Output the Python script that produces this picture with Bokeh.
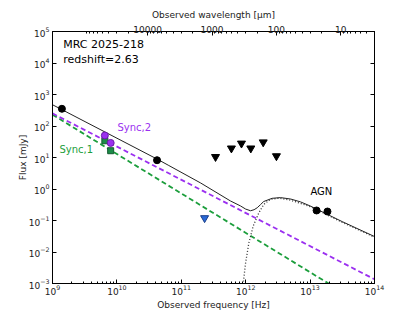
from bokeh.plotting import figure
from bokeh.models import (LogAxis, FixedTicker, Range1d, LogScale, Label,
                          BasicTickFormatter, LogTicker)
from bokeh.embed import file_html
from bokeh.resources import INLINE

# ---------------- data ----------------
# detections (black circles) with error bars
det_freq = [1.4e9, 4.2e10, 1.26e13, 1.86e13]
det_flux = [352, 8.2, 0.208, 0.193]
det_lo = [352, 6.7, 0.208, 0.152]
det_hi = [352, 10.0, 0.208, 0.245]

# synchrotron component photometry
sync2_pt_freq = [6.5e9, 8.0e9]
sync2_pt_flux = [50, 29]
sync1_pt_freq = [6.5e9, 8.0e9]
sync1_pt_flux = [34, 16.4]

# upper limits
ulim_freq = [3.4e11, 6.0e11, 8.6e11, 1.2e12, 1.87e12, 3.0e12]
ulim_flux = [10.5, 19.6, 28, 19.6, 30.6, 11.1]
blue_freq = [2.3e11]
blue_flux = [0.12]

# model components
sync_freq = [1e9, 1e14]
sync1_flux = [229, 1.28e-4]
sync2_flux = [251, 1.36e-3]

agn_freq = [8.9e11, 9.93e11, 1.117e12, 1.306e12, 1.6e12, 1.905e12, 2.427e12,
            3.266e12, 4.677e12, 7.08e12, 1.014e13, 3.16e13, 1e14]
agn_flux = [6e-4, 4.3e-3, 0.019, 0.066, 0.175, 0.324, 0.47,
            0.51, 0.457, 0.35, 0.274, 0.087, 0.0295]

total_freq = [1e9, 4.3e10, 6.4e10, 2e11, 5.8e11, 8.3e11, 1e12, 1.19e12, 1.35e12,
              1.51e12, 1.7e12, 1.9e12, 2.57e12, 3.47e12, 5e12, 7.1e12, 1e13,
              3.16e13, 1e14]
total_flux = [473, 8.7, 5.57, 1.55, 0.417, 0.29, 0.23, 0.204, 0.22,
              0.254, 0.32, 0.40, 0.506, 0.533, 0.48, 0.39, 0.29,
              0.092, 0.031]

# top axis (wavelength, micron)
wl_ticks = [10000, 1000, 100, 10]
wl_minor = [k * 10 ** n for n in range(0, 5) for k in range(2, 10)]

C_UM = 2.99792458e14  # speed of light in micron/s

PURPLE = "#9b30f0"
GREEN = "#1c9e3c"
FONT = "DejaVu Sans"

p = figure(width=416, height=312, x_axis_type="log", y_axis_type="log",
           x_range=(1e9, 1e14), y_range=(1e-3, 1e5),
           output_backend="svg", toolbar_location=None,
           min_border_left=52, min_border_right=42, min_border_top=31,
           min_border_bottom=28)
p.grid.visible = False
p.outline_line_color = "black"
p.outline_line_width = 1
p.background_fill_color = "white"
p.border_fill_color = "white"

bottom = p.below[0]
left = p.left[0]

# wavelength axis on top
p.extra_x_ranges = {"wl": Range1d(start=C_UM / 1e9, end=C_UM / 1e14)}
p.extra_x_scales = {"wl": LogScale()}
top = LogAxis(x_range_name="wl",
              ticker=FixedTicker(ticks=wl_ticks, minor_ticks=wl_minor),
              formatter=BasicTickFormatter(use_scientific=False),
              axis_label="Observed wavelength [\u03bcm]")
p.add_layout(top, "above")

right = LogAxis(ticker=LogTicker())
p.add_layout(right, "right")

for ax in [bottom, left, top, right]:
    ax.major_tick_in = 4
    ax.major_tick_out = 0
    ax.minor_tick_in = 2
    ax.minor_tick_out = 0
    ax.axis_line_color = "black"
    ax.major_tick_line_color = "black"
    ax.minor_tick_line_color = "black"
    ax.major_label_text_font = FONT
    ax.major_label_text_font_size = "9px"
    ax.major_label_text_color = "#222222"
    ax.major_label_standoff = 3
    ax.axis_label_text_font = FONT
    ax.axis_label_text_font_size = "9px"
    ax.axis_label_text_font_style = "normal"
    ax.axis_label_text_color = "#222222"
    ax.axis_label_standoff = 3
top.major_label_standoff = -1
top.axis_label_standoff = 3
left.axis_label_standoff = -2
bottom.major_label_standoff = 1
bottom.axis_label_standoff = 2
right.major_label_text_alpha = 0
right.major_label_text_font_size = "5px"
left.minor_tick_line_color = None
right.minor_tick_line_color = None
bottom.axis_label = "Observed frequency [Hz]"
left.axis_label = "Flux [mJy]"

# model lines
p.line(sync_freq, sync1_flux, line_color=GREEN, line_width=1.8, line_dash="5 3")
p.line(sync_freq, sync2_flux, line_color=PURPLE, line_width=1.8, line_dash="5 3")
p.line(agn_freq, agn_flux, line_color="#333333", line_width=1.3, line_dash="1 2")
p.line(total_freq, total_flux, line_color="#222222", line_width=1.0)

# error bars
p.segment(x0=det_freq, y0=det_lo, x1=det_freq, y1=det_hi,
          line_color="black", line_width=1.2)

# markers
p.scatter(ulim_freq, ulim_flux, marker="inverted_triangle", size=8,
          fill_color="black", line_color="black")
p.scatter(blue_freq, blue_flux, marker="inverted_triangle", size=8,
          fill_color="#2a6ad8", line_color="#1a3f8a")
p.scatter(det_freq, det_flux, marker="circle", size=7,
          fill_color="black", line_color="black")
p.scatter(sync1_pt_freq, sync1_pt_flux, marker="square", size=6,
          fill_color="#1c8c48", line_color="#145a30")
p.scatter(sync2_pt_freq, sync2_pt_flux, marker="circle", size=7,
          fill_color=PURPLE, line_color="#6a1aa8")

# annotations
for x, y, t, c in [(1.47e9, 4.0e4, "MRC 2025-218", "black"),
                   (1.47e9, 1.26e4, "redshift=2.63", "black")]:
    p.add_layout(Label(x=x, y=y, text=t, text_color=c, text_font=FONT,
                       text_font_size="11px", text_baseline="middle"))
for x, y, t, c in [(1.02e10, 88, "Sync,2", PURPLE),
                   (1.28e9, 18.6, "Sync,1", GREEN),
                   (1.01e13, 0.85, "AGN", "black")]:
    p.add_layout(Label(x=x, y=y, text=t, text_color=c, text_font=FONT,
                       text_font_size="10px", text_baseline="middle"))

open("out.html", "w").write(file_html(p, INLINE))
